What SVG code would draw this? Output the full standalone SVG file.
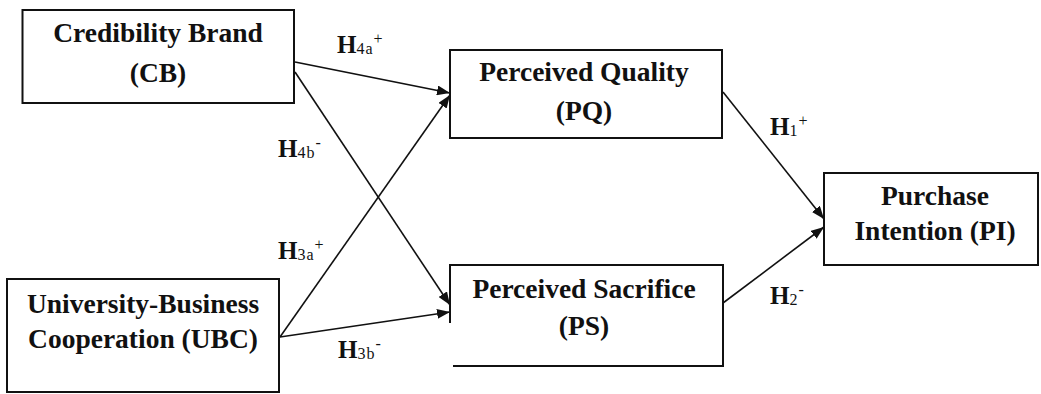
<svg xmlns="http://www.w3.org/2000/svg" width="1041" height="394" viewBox="0 0 1041 394">
<style>
.box{fill:#fff;stroke:#111;stroke-width:2}
.t{font-family:"Liberation Serif","Times New Roman",serif;font-weight:bold;font-size:27.5px;fill:#111;text-anchor:middle}
.h{font-family:"Liberation Serif","Times New Roman",serif;font-weight:bold;font-size:25px;fill:#111}
.s{font-weight:normal;font-size:16px;letter-spacing:1px}
.c{fill:none;stroke:#111;stroke-width:1.6;marker-end:url(#ah)}
</style>
<defs>
<marker id="ah" markerUnits="userSpaceOnUse" markerWidth="14" markerHeight="10" refX="13" refY="5" orient="auto">
<path d="M0,0 L13,5 L0,10 z" fill="#111"/>
</marker>
</defs>
<rect width="1041" height="394" fill="#fff"/>
<g id="connectors">
<line class="c" x1="295" y1="62" x2="450" y2="93"/>
<line class="c" x1="295" y1="72" x2="450" y2="305"/>
<line class="c" x1="280" y1="337" x2="450" y2="95"/>
<line class="c" x1="280" y1="337" x2="450" y2="312"/>
<line class="c" x1="723" y1="92" x2="824" y2="219"/>
<line class="c" x1="723" y1="303" x2="824" y2="227"/>
</g>
<g id="CB">
<rect class="box" x="22.5" y="10" width="271.5" height="93"/>
<text class="t" x="158" y="42">Credibility Brand</text>
<text class="t" x="158" y="82">(CB)</text>
</g>
<g id="UBC">
<rect class="box" x="7" y="279" width="272" height="113"/>
<text class="t" x="143" y="313">University-Business</text>
<text class="t" x="143" y="348">Cooperation (UBC)</text>
</g>
<g id="PQ">
<rect class="box" x="450" y="50" width="272" height="88"/>
<text class="t" x="584" y="81">Perceived Quality</text>
<text class="t" x="584" y="120">(PQ)</text>
</g>
<g id="PS">
<path d="M450,323 V265 H723 V366 H453" fill="#fff" stroke="#111" stroke-width="2"/>
<text class="t" x="584" y="298">Perceived Sacrifice</text>
<text class="t" x="584" y="335">(PS)</text>
</g>
<g id="PI">
<rect class="box" x="824" y="173" width="214" height="92"/>
<text class="t" x="935" y="205">Purchase</text>
<text class="t" x="935" y="240">Intention (PI)</text>
</g>
<g id="labels">
<text class="h" x="337" y="53">H<tspan class="s" dy="1">4a</tspan><tspan class="s" dy="-10">+</tspan></text>
<text class="h" x="278" y="157">H<tspan class="s" dy="1">4b</tspan><tspan class="s" dy="-10">-</tspan></text>
<text class="h" x="278" y="259">H<tspan class="s" dy="1">3a</tspan><tspan class="s" dy="-10">+</tspan></text>
<text class="h" x="338" y="358">H<tspan class="s" dy="1">3b</tspan><tspan class="s" dy="-10">-</tspan></text>
<text class="h" x="770" y="135">H<tspan class="s" dy="1">1</tspan><tspan class="s" dy="-10">+</tspan></text>
<text class="h" x="770" y="304">H<tspan class="s" dy="1">2</tspan><tspan class="s" dy="-10">-</tspan></text>
</g>
</svg>
